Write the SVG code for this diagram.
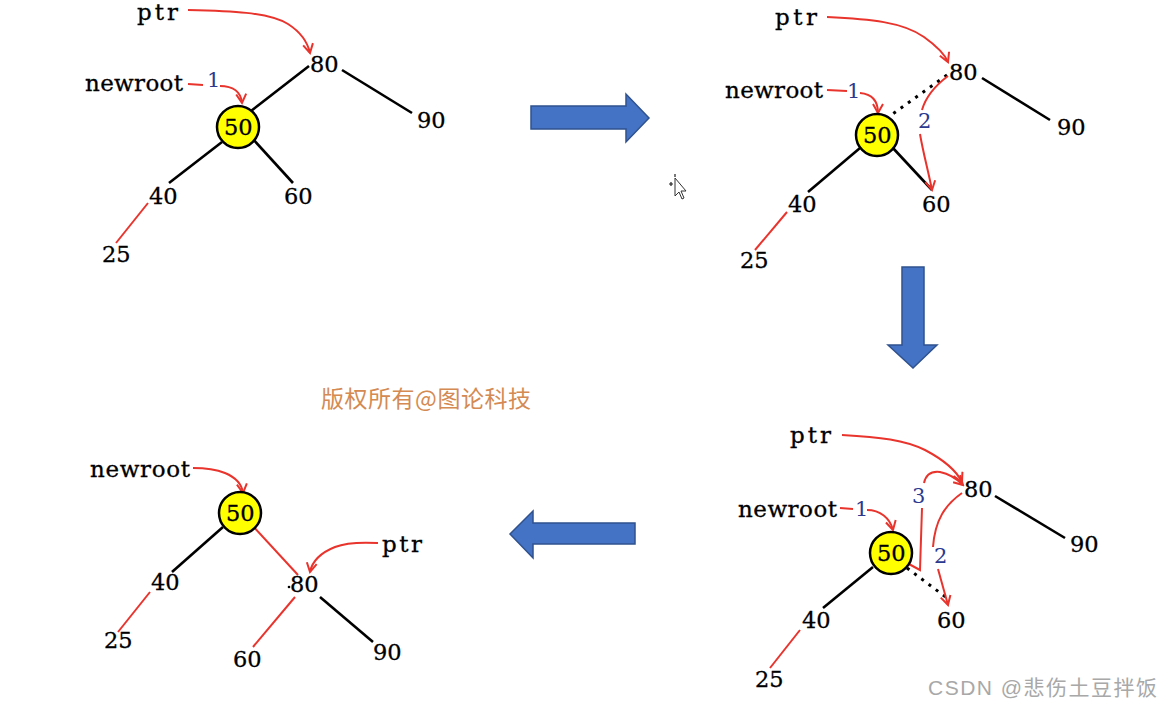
<svg xmlns="http://www.w3.org/2000/svg" width="1174" height="708" viewBox="0 0 1174 708">
<defs>
<marker id="ah" viewBox="0 0 12 12" refX="10" refY="6" markerWidth="12" markerHeight="12" markerUnits="userSpaceOnUse" orient="auto">
<path d="M1,1 L10,6 L1,11" fill="none" stroke="#e8342c" stroke-width="2"/>
</marker>
<style>
.n{font-family:"DejaVu Serif","Liberation Serif",serif;font-size:22.5px;fill:#000;stroke:#000;stroke-width:0.3}
.lb{font-family:"DejaVu Serif","Liberation Serif",serif;font-size:23px;fill:#000;stroke:#000;stroke-width:0.3}
.st{font-family:"DejaVu Serif","Liberation Serif",serif;font-size:21px;fill:#2b3a8f}
.bk{stroke:#000;stroke-width:2.6;fill:none}
.dt{stroke:#000;stroke-width:3;fill:none;stroke-dasharray:3 6}
.rd{stroke:#e8342c;stroke-width:2;fill:none}
.ra{stroke:#e8342c;stroke-width:2;fill:none;marker-end:url(#ah)}
.cir{fill:#ffff00;stroke:#000;stroke-width:2.5}
.big{fill:#4472c4;stroke:#2f528f;stroke-width:1.5}
</style>
</defs>
<rect width="1174" height="708" fill="#fff"/>

<!-- big blue arrows -->
<g id="arrow-right"><polygon class="big" points="531,106 626,106 626,94 649,118 626,142 626,129 531,129"/></g>
<g id="arrow-down"><polygon class="big" points="902,267 924,267 924,345 937,345 913,368 888,345 902,345"/></g>
<g id="arrow-left"><polygon class="big" points="635,523 533,523 533,511 510,534 533,558 533,544 635,544"/></g>

<!-- connectors -->
<g id="connectors">
<!-- tree 1 -->
<path class="bk" d="M309,66 L251,111"/>
<path class="bk" d="M342,70 L412,113"/>
<path class="bk" d="M222,142 L169,183"/>
<path class="bk" d="M252,138 L293,183"/>
<path class="rd" d="M148,203 L116,243"/>
<path class="ra" d="M188,10 C230,11 268,12 288,24 C302,33 308,44 310,53"/>
<path class="rd" d="M188,84 L203,85"/>
<path class="ra" d="M220,86 C233,86 241,92 242,103"/>
<!-- tree 2 -->
<path class="dt" d="M947,75 L887,118"/>
<path class="bk" d="M982,78 L1050,120"/>
<path class="bk" d="M860,148 L808,192"/>
<path class="bk" d="M892,147 L932,190"/>
<path class="rd" d="M787,212 L755,250"/>
<path class="ra" d="M827,17 C870,19 903,22 924,37 C938,47 945,55 948,62"/>
<path class="rd" d="M827,90 L847,91"/>
<path class="ra" d="M860,93 C872,94 878,101 878,113"/>
<path class="rd" d="M948,76 C936,85 926,96 922,110"/>
<path class="ra" d="M920,134 C923,152 928,170 932,190"/>
<!-- tree 3 -->
<path class="dt" d="M907,568 L947,598"/>
<path class="bk" d="M995,496 L1065,538"/>
<path class="bk" d="M873,567 L823,608"/>
<path class="rd" d="M800,630 L770,668"/>
<path class="ra" d="M842,435 C880,437 905,440 925,450 C944,460 957,472 962,482"/>
<path class="rd" d="M840,508 L853,509"/>
<path class="ra" d="M867,510 C880,510 890,518 893,530"/>
<path class="rd" d="M907,563 L920,570 L922,508"/>
<path class="ra" d="M924,483 C926,474 932,471 940,472 C950,474 957,479 963,485"/>
<path class="rd" d="M962,493 C945,505 935,520 933,547"/>
<path class="ra" d="M938,569 L948,605"/>
<!-- tree 4 -->
<path class="bk" d="M223,527 L172,572"/>
<path class="rd" d="M252,525 L298,575"/>
<path class="rd" d="M295,597 L253,647"/>
<path class="bk" d="M320,597 L373,642"/>
<path class="rd" d="M150,592 L118,632"/>
<path class="ra" d="M193,468 C205,468 215,469 225,473 C237,478 242,485 243,493"/>
<path class="ra" d="M378,543 C360,542 345,543 335,547 C320,553 312,562 310,572"/>
</g>

<!-- tree 1 nodes -->
<g id="t1-ptr"><text class="lb" x="137" y="20" textLength="41">ptr</text></g>
<g id="t1-newroot"><text class="lb" x="85" y="91" textLength="98">newroot</text></g>
<g id="t1-step1"><text class="st" x="207" y="87">1</text></g>
<g id="t1-80"><text class="n" x="310" y="72">80</text></g>
<g id="t1-90"><text class="n" x="417" y="128">90</text></g>
<g id="t1-50"><circle class="cir" cx="238" cy="127" r="21"/><text class="n" x="224" y="135">50</text></g>
<g id="t1-40"><text class="n" x="149" y="204">40</text></g>
<g id="t1-60"><text class="n" x="284" y="204">60</text></g>
<g id="t1-25"><text class="n" x="102" y="262">25</text></g>

<!-- tree 2 nodes -->
<g id="t2-ptr"><text class="lb" x="775" y="25" textLength="42">ptr</text></g>
<g id="t2-newroot"><text class="lb" x="725" y="98" textLength="98">newroot</text></g>
<g id="t2-step1"><text class="st" x="847" y="98">1</text></g>
<g id="t2-step2"><text class="st" x="918" y="128">2</text></g>
<g id="t2-80"><text class="n" x="949" y="80">80</text></g>
<g id="t2-90"><text class="n" x="1057" y="135">90</text></g>
<g id="t2-50"><circle class="cir" cx="877" cy="135" r="21"/><text class="n" x="863" y="143">50</text></g>
<g id="t2-40"><text class="n" x="788" y="212">40</text></g>
<g id="t2-60"><text class="n" x="922" y="212">60</text></g>
<g id="t2-25"><text class="n" x="740" y="268">25</text></g>

<!-- cursor -->
<g id="cursor">
<path d="M675,178 L675,196 L679,192 L682,199 L684,198 L681,191 L686,191 Z" fill="#fff" stroke="#333" stroke-width="1"/>
<path d="M669,184 L673,184 M671,182 L671,186 M675,174 L675,177" stroke="#222" stroke-width="1.2"/>
</g>

<!-- tree 3 nodes -->
<g id="t3-ptr"><text class="lb" x="790" y="443" textLength="41">ptr</text></g>
<g id="t3-newroot"><text class="lb" x="738" y="517" textLength="99">newroot</text></g>
<g id="t3-step1"><text class="st" x="855" y="516">1</text></g>
<g id="t3-step3"><text class="st" x="912" y="503">3</text></g>
<g id="t3-step2"><text class="st" x="934" y="563">2</text></g>
<g id="t3-80"><text class="n" x="964" y="497">80</text></g>
<g id="t3-90"><text class="n" x="1070" y="552">90</text></g>
<g id="t3-50"><circle class="cir" cx="891" cy="553" r="21"/><text class="n" x="877" y="561">50</text></g>
<g id="t3-40"><text class="n" x="802" y="628">40</text></g>
<g id="t3-60"><text class="n" x="937" y="628">60</text></g>
<g id="t3-25"><text class="n" x="755" y="687">25</text></g>

<!-- tree 4 nodes -->
<g id="t4-newroot"><text class="lb" x="90" y="477" textLength="100">newroot</text></g>
<g id="t4-ptr"><text class="lb" x="382" y="552" textLength="40">ptr</text></g>
<g id="t4-50"><circle class="cir" cx="240" cy="513" r="21"/><text class="n" x="226" y="521">50</text></g>
<g id="t4-40"><text class="n" x="151" y="590">40</text></g>
<g id="t4-80"><text class="n" x="290" y="592">80</text><circle cx="289" cy="587" r="1.3" fill="#000"/></g>
<g id="t4-25"><text class="n" x="104" y="648">25</text></g>
<g id="t4-60"><text class="n" x="233" y="667">60</text></g>
<g id="t4-90"><text class="n" x="373" y="660">90</text></g>

<!-- watermarks -->
<g id="wm1"><text x="321" y="407" textLength="210" style="font-family:'Noto Sans CJK SC','Noto Sans',sans-serif;font-size:23px;fill:#d48a52">版权所有@图论科技</text></g>
<g id="wm2"><text x="928" y="695" textLength="229" style="font-family:'Liberation Sans','Noto Sans CJK SC',sans-serif;font-size:21px;fill:#a8a8a8">CSDN @悲伤土豆拌饭</text></g>
</svg>
